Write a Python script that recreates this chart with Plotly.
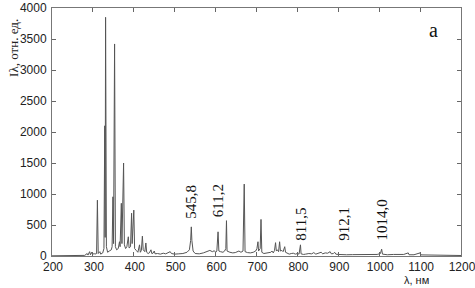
import plotly.graph_objects as go

wavelength_nm = [200, 240, 270, 280, 286, 288, 292, 294, 297, 299, 303, 305, 309, 311, 313, 317, 319, 324, 327, 329, 330, 331, 333, 336, 340, 345, 347, 349, 350.5, 353, 355, 358, 362, 365, 366.5, 369.5, 371, 375, 377, 380, 383, 386.6, 388.5, 392, 394.6, 396, 400, 402, 406, 410, 414, 416, 418.5, 421, 423, 427, 429.5, 431.5, 435, 438, 442, 444, 447, 450, 452, 458, 465, 472, 478, 485, 489, 492, 500, 510, 520, 530, 536, 539, 540.6, 542, 545, 550, 560, 570, 576, 580, 586, 592, 597, 600, 603, 606, 608, 612, 618, 622, 625, 626.6, 628, 635, 642, 648, 652, 657, 662, 667, 670, 672, 678, 685, 692, 698, 701, 703.6, 705, 709, 711, 713, 718, 725, 730, 735, 738, 741, 744, 746.6, 748.5, 751, 754, 756.5, 758.5, 762, 765, 769, 771, 775, 780, 785, 790, 795, 800, 804, 807.5, 809, 815, 820, 828, 835, 840, 845, 852, 858, 862, 868, 874, 880, 883, 888, 891, 894, 900, 910, 920, 935, 950, 965, 980, 995, 1003, 1006, 1008, 1020, 1035, 1050, 1060, 1071, 1073, 1085, 1100, 1102, 1120, 1140, 1160, 1180, 1200]
intensity = [3, 4, 6, 10, 40, 15, 70, 20, 60, 25, 40, 30, 40, 900, 40, 70, 30, 50, 120, 2100, 300, 3850, 150, 60, 80, 100, 150, 955, 200, 3420, 150, 100, 120, 230, 150, 850, 200, 1500, 180, 120, 150, 310, 130, 150, 690, 200, 740, 120, 90, 60, 180, 60, 90, 320, 100, 70, 210, 60, 40, 50, 100, 40, 45, 80, 35, 40, 30, 45, 35, 50, 70, 40, 30, 35, 40, 60, 100, 250, 470, 250, 80, 40, 35, 50, 70, 80, 90, 70, 85, 60, 80, 390, 80, 70, 60, 80, 120, 570, 80, 60, 50, 55, 70, 80, 60, 80, 1160, 70, 55, 50, 60, 80, 120, 230, 80, 120, 590, 60, 40, 45, 50, 60, 80, 50, 90, 215, 80, 100, 70, 230, 80, 90, 70, 150, 60, 50, 30, 40, 45, 30, 40, 30, 180, 35, 25, 30, 40, 35, 55, 30, 45, 60, 35, 50, 45, 70, 35, 40, 60, 30, 25, 20, 20, 22, 20, 22, 20, 25, 40, 110, 30, 20, 25, 20, 25, 50, 20, 20, 50, 18, 15, 20, 12, 10, 8]

label_texts = ["545,8", "611,2", "811,5", "912,1", "1014,0"]
label_x = [540.6, 606, 808, 913, 1008]
label_y = [880, 885, 515, 515, 580]

x_ticks = [200, 300, 400, 500, 600, 700, 800, 900, 1000, 1100, 1200]
y_ticks = [0, 500, 1000, 1500, 2000, 2500, 3000, 3500, 4000]

fig = go.Figure()
fig.add_trace(go.Scatter(x=wavelength_nm, y=intensity, mode="lines",
                         line=dict(color="#555555", width=1), showlegend=False))

for t, lx, ly in zip(label_texts, label_x, label_y):
    fig.add_annotation(x=lx, y=ly, text=t, textangle=-90, showarrow=False,
                       xanchor="center", yanchor="middle",
                       font=dict(family="Liberation Serif", size=15, color="#111111"))

fig.add_annotation(xref="paper", yref="paper", x=0.932, y=0.911, text="a", showarrow=False,
                   xanchor="center", yanchor="middle",
                   font=dict(family="Liberation Serif", size=20, color="#111111"))
fig.add_annotation(xref="paper", yref="paper", x=-0.093, y=0.839, text="Iλ, отн. ед.",
                   textangle=-90, showarrow=False, xanchor="center", yanchor="middle",
                   font=dict(family="Liberation Serif", size=13, color="#222222"))
fig.add_annotation(xref="paper", yref="paper", x=0.89, y=-0.097, text="λ, нм", showarrow=False,
                   xanchor="center", yanchor="middle",
                   font=dict(family="Liberation Sans", size=11, color="#222222"))

axis_common = dict(showline=True, linecolor="#777777", linewidth=1, mirror="ticks",
                   ticks="inside", ticklen=4, tickcolor="#666666", showgrid=False,
                   zeroline=False, automargin=False, ticklabeloverflow="allow",
                   tickfont=dict(family="Liberation Sans", size=12, color="#222222"))
fig.update_xaxes(range=[200, 1200], tickvals=x_ticks, ticklabelshift=1, **axis_common)
fig.update_yaxes(range=[0, 4000], tickvals=y_ticks, ticklabelstandoff=2, **axis_common)

fig.update_layout(width=475, height=288, margin=dict(l=52, r=14, t=8, b=32),
                  plot_bgcolor="white", paper_bgcolor="white")
fig.write_html("out.html", config={"displayModeBar": False},
               post_script="document.body.style.margin='0';")
